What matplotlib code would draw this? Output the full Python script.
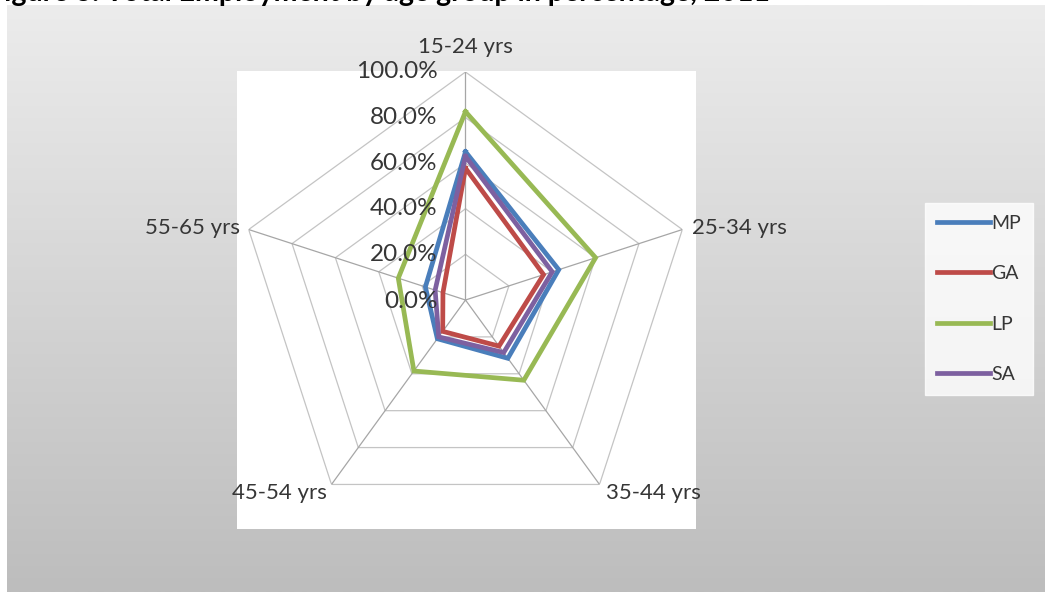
import numpy as np
import matplotlib
matplotlib.use("Agg")
import matplotlib.pyplot as plt
from matplotlib.patches import Rectangle

# Age groups on the spokes (clockwise from the top)
categories = ["15-24 yrs", "25-34 yrs", "35-44 yrs", "45-54 yrs", "55-65 yrs"]

# Share employed in each age group (%)
mp = [65.0, 43.0, 31.6, 21.0, 18.5]
ga = [57.8, 36.0, 25.0, 17.0, 10.4]
lp = [82.6, 60.0, 43.5, 38.5, 31.0]
sa = [63.0, 40.0, 28.5, 20.0, 14.0]

series_names = ["MP", "GA", "LP", "SA"]
series_colors = ["#4A7EBB", "#BE4B48", "#98B954", "#7D60A0"]

r_ticks = [0.0, 20.0, 40.0, 60.0, 80.0, 100.0]
r_tick_labels = ["0.0%", "20.0%", "40.0%", "60.0%", "80.0%", "100.0%"]

W, H = 1045, 592
plt.rcParams["font.family"] = ["Lato", "DejaVu Sans"]
text_color = "#363636"

fig = plt.figure(figsize=(W / 100, H / 100), dpi=100, facecolor="white")

# Gradient panel behind the chart
bg = fig.add_axes([7 / W, 0, 1 - 7 / W, (H - 5) / H], zorder=-10)
grad = np.linspace(236, 189, 256).reshape(-1, 1) / 255.0
bg.imshow(np.dstack([grad, grad, grad]), aspect="auto", extent=[0, 1, 0, 1],
          interpolation="bilinear")
bg.set_axis_off()

# Heading sits mostly above the top edge; only descenders reach the canvas
fig.text(-12 / W, 1 - 1.5 / H,
         "Figure 3: Total Employment by age group in percentage, 2011",
         fontsize=20.5, fontweight="bold", color="black", ha="left", va="baseline",
         zorder=10)

# White plot area
fig.patches.append(Rectangle((237 / W, (H - 529) / H), (696 - 237) / W, (529 - 71) / H,
                             transform=fig.transFigure, facecolor="white",
                             edgecolor="none", zorder=-5))

cx, cy, R = 465.5, 300.0, 228.0
ax = fig.add_axes([(cx - R) / W, (H - cy - R) / H, 2 * R / W, 2 * R / H],
                  projection="polar")
ax.set_facecolor("none")
ax.set_theta_offset(np.pi / 2)
ax.set_theta_direction(-1)
ax.set_ylim(0, 100)
ax.grid(False)
ax.spines["polar"].set_visible(False)
ax.set_xticks([])
ax.set_yticks([])

n = len(categories)
theta = np.arange(n) * 2 * np.pi / n
theta_closed = np.append(theta, theta[0])

# Polygon gridlines and spokes
for rv in r_ticks[1:]:
    ax.plot(theta_closed, [rv] * (n + 1), color="#C4C4C4", lw=0.9, zorder=1)
for t in theta:
    ax.plot([t, t], [0, 100], color="#A6A6A6", lw=0.9, zorder=1)

# Series
for name, vals, col in zip(series_names, [mp, ga, lp, sa], series_colors):
    ax.plot(theta_closed, list(vals) + [vals[0]], color=col, lw=3.4,
            solid_joinstyle="miter", label=name, zorder=3)

# Radial value labels along the vertical spoke
for rv, lab in zip(r_ticks, r_tick_labels):
    ax.annotate(lab, xy=(0, rv), xytext=(-28, -2 if rv == 0 else 0),
                textcoords="offset pixels", ha="right", va="center",
                fontsize=17.5, color=text_color, zorder=4, annotation_clip=False)

# Category labels outside the vertices
offsets = [((0, 25), "center", "center"),
           ((10, 2), "left", "center"),
           ((6, -9), "left", "center"),
           ((-5, -9), "right", "center"),
           ((-9, 2), "right", "center")]
for t, lab, (off, ha, va) in zip(theta, categories, offsets):
    ax.annotate(lab, xy=(t, 100), xytext=off, textcoords="offset pixels",
                ha=ha, va=va, fontsize=16, color=text_color,
                annotation_clip=False)

leg = fig.legend(*ax.get_legend_handles_labels(), loc="center left",
                 bbox_to_anchor=(925 / W, 1 - 299 / H), frameon=True,
                 fancybox=False, fontsize=14, handlelength=2.75,
                 handletextpad=0.05, labelspacing=1.72, borderpad=0.6,
                 borderaxespad=0)
leg.get_frame().set_edgecolor("white")
leg.get_frame().set_facecolor("white")
for t in leg.get_texts():
    t.set_color(text_color)

fig.savefig("out.png", dpi=100, facecolor="white")
